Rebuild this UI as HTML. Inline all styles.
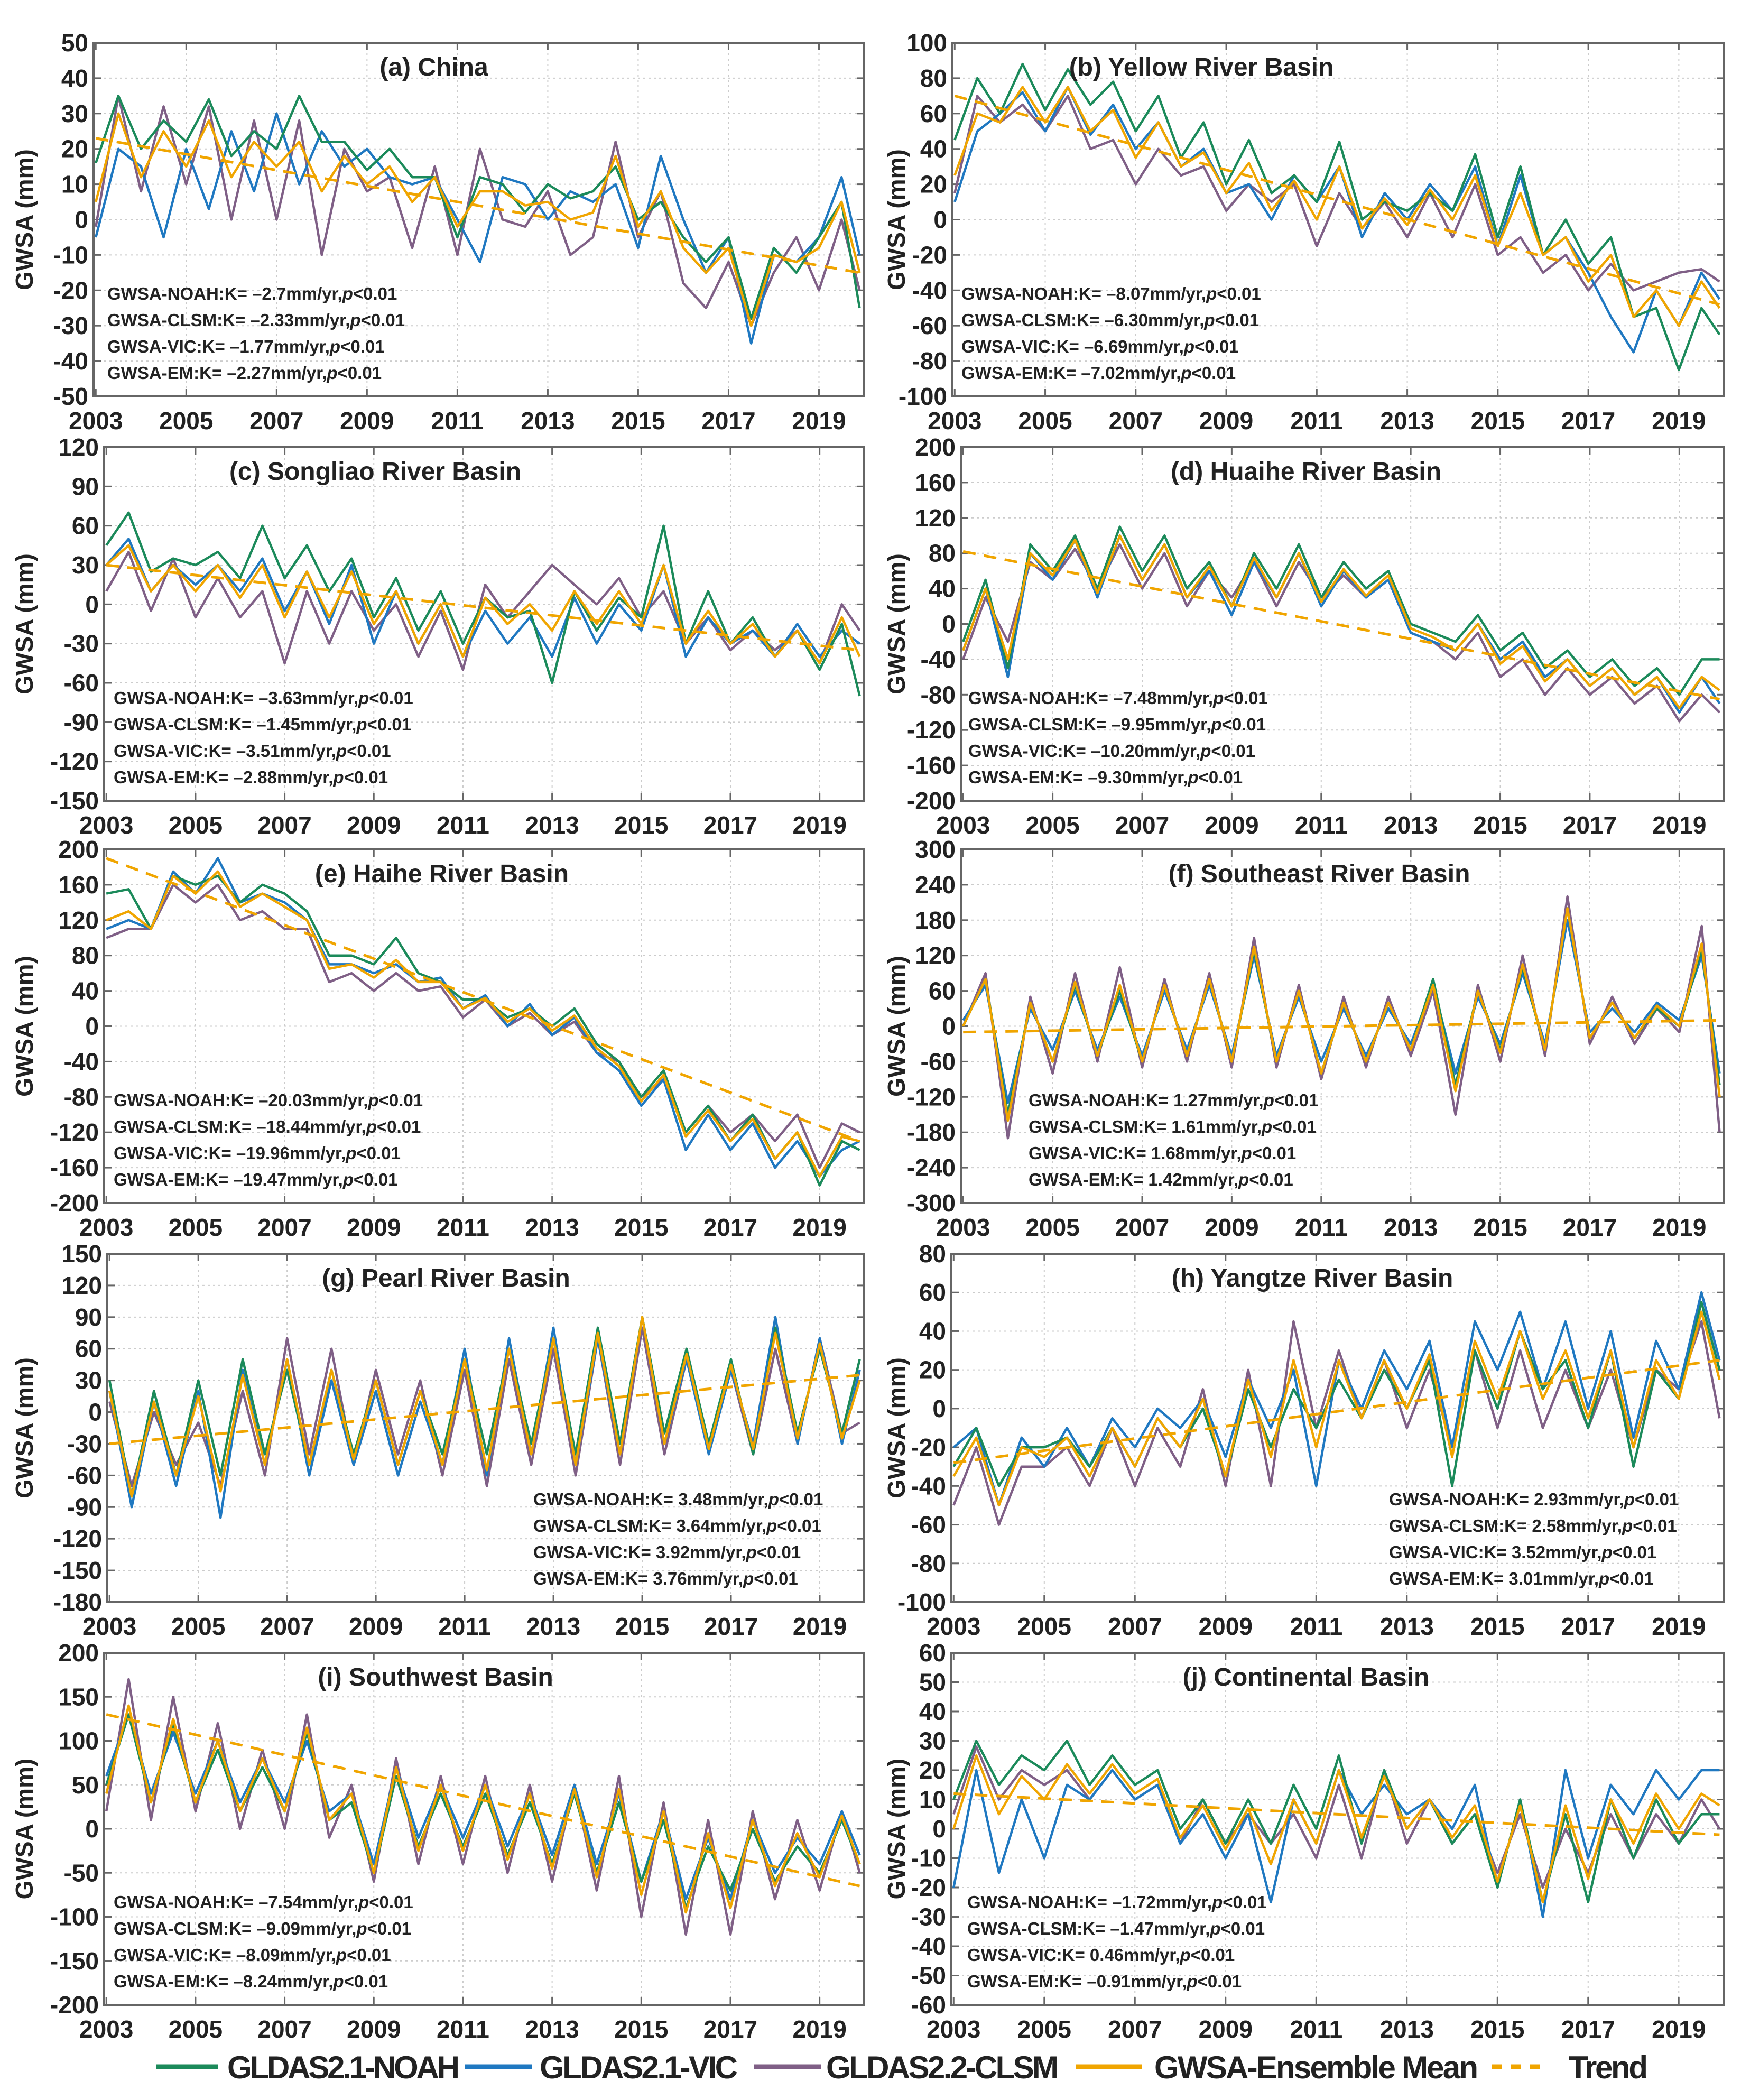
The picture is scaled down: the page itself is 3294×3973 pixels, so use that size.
<!DOCTYPE html>
<html><head><meta charset="utf-8"><style>
html,body{margin:0;padding:0;background:#fff}
svg{display:block}
text{font-family:"Liberation Sans",sans-serif;font-weight:bold;fill:#222}
</style></head><body>
<svg id="fig" width="3294" height="3973" viewBox="0 0 3294 3973" xmlns="http://www.w3.org/2000/svg">
<g id="legend">
 <g><line x1="295" y1="3910" x2="413" y2="3910" stroke="#1b8a5a" stroke-width="9"/><text x="430" y="3932" font-size="60" textLength="440">GLDAS2.1-NOAH</text></g>
 <g><line x1="880" y1="3910" x2="1007" y2="3910" stroke="#1f78c1" stroke-width="9"/><text x="1021" y="3932" font-size="60" textLength="375">GLDAS2.1-VIC</text></g>
 <g><line x1="1427" y1="3910" x2="1553" y2="3910" stroke="#7f5f86" stroke-width="9"/><text x="1563" y="3932" font-size="60" textLength="440">GLDAS2.2-CLSM</text></g>
 <g><line x1="2036" y1="3910" x2="2160" y2="3910" stroke="#f0a500" stroke-width="9"/><text x="2184" y="3932" font-size="60" textLength="613">GWSA-Ensemble Mean</text></g>
 <g><line x1="2822" y1="3910" x2="2930" y2="3910" stroke="#f0a500" stroke-width="9" stroke-dasharray="20 16"/><text x="2968" y="3932" font-size="60" textLength="150">Trend</text></g>
</g>
</svg>
<script>
// time axis: half-year steps from 2003.0
const timeSteps = [2003,2003.5,2004,2004.5,2005,2005.5,2006,2006.5,2007,2007.5,2008,2008.5,2009,2009.5,2010,2010.5,2011,2011.5,2012,2012.5,2013,2013.5,2014,2014.5,2015,2015.5,2016,2016.5,2017,2017.5,2018,2018.5,2019,2019.5,2019.9];
const xTickLabels = [2003,2005,2007,2009,2011,2013,2015,2017,2019];
const panelTitles = ["(a) China","(b) Yellow River Basin","(c) Songliao  River Basin","(d) Huaihe River Basin","(e) Haihe River Basin","(f) Southeast River Basin","(g) Pearl River Basin","(h) Yangtze River Basin","(i) Southwest  Basin","(j) Continental  Basin"];
const yMins = [-50,-100,-150,-200,-200,-300,-180,-100,-200,-60];
const yMaxs = [50,100,120,200,200,300,150,80,200,60];
const ySteps = [10,20,30,40,40,60,30,20,50,10];
const trendStart = [23,70,30,82,190,-10,-30,-28,130,12];
const trendEnd = [-15,-48,-35,-85,-130,10,35,25,-65,-2];
const kNoah = ["-2.7","-8.07","-3.63","-7.48","-20.03","1.27","3.48","2.93","-7.54","-1.72"];
const kClsm = ["-2.33","-6.30","-1.45","-9.95","-18.44","1.61","3.64","2.58","-9.09","-1.47"];
const kVic = ["-1.77","-6.69","-3.51","-10.20","-19.96","1.68","3.92","3.52","-8.09","0.46"];
const kEm = ["-2.27","-7.02","-2.88","-9.30","-19.47","1.42","3.76","3.01","-8.24","-0.91"];

const noahA=[16,35,20,28,22,34,18,25,20,35,22,22,14,20,12,12,-5,12,10,2,10,6,8,15,0,5,-5,-12,-5,-28,-8,-15,-5,5,-25];
const vicA=[-5,20,15,-5,20,3,25,8,30,10,25,15,20,12,10,12,0,-12,12,10,0,8,5,10,-8,18,0,-15,-5,-35,-10,-12,-5,12,-10];
const clsmA=[-2,35,8,32,10,32,0,28,0,28,-10,20,8,12,-8,15,-10,20,0,-2,8,-10,-5,22,-5,8,-18,-25,-12,-30,-15,-5,-20,0,-20];
const emA=[5,30,12,25,15,28,12,22,15,22,8,18,10,15,5,12,-2,8,8,4,5,0,2,18,-2,8,-8,-15,-8,-30,-10,-12,-8,5,-15];

const noahB=[45,80,60,88,62,85,65,78,50,70,35,55,20,45,15,25,10,44,0,10,5,15,5,37,-10,30,-20,0,-25,-10,-55,-50,-85,-50,-65];
const vicB=[10,50,60,72,50,75,48,65,40,55,30,40,15,20,0,25,10,30,-10,15,0,20,5,30,-15,25,-20,-10,-30,-55,-75,-40,-60,-30,-45];
const clsmB=[15,70,55,65,50,70,40,45,20,40,25,30,5,20,10,20,-15,15,-5,10,-10,15,-10,20,-20,-10,-30,-20,-40,-25,-40,-35,-30,-28,-35];
const emB=[25,60,55,75,55,75,50,62,35,55,30,38,15,32,5,22,0,30,-5,12,-3,17,0,25,-15,15,-20,-10,-35,-20,-55,-40,-60,-35,-50];

const noahC=[45,70,25,35,30,40,20,60,20,45,10,35,-10,20,-20,10,-30,5,-10,-5,-60,10,-20,5,-10,60,-30,10,-30,-10,-40,-20,-50,-15,-70];
const vicC=[30,50,10,30,15,30,10,35,-5,25,-15,30,-30,10,-30,0,-40,-5,-30,-10,-40,5,-30,0,-20,30,-40,-10,-30,-20,-40,-15,-40,-20,-30];
const clsmC=[10,40,-5,35,-10,20,-10,10,-45,10,-30,10,-20,0,-40,-5,-50,15,-10,10,30,15,0,20,-10,10,-30,-10,-35,-20,-35,-20,-45,0,-20];
const emC=[30,45,10,30,10,30,5,30,-10,25,-10,25,-15,10,-30,0,-40,5,-15,0,-20,10,-15,10,-15,30,-30,-5,-30,-15,-40,-20,-45,-10,-40];

const noahD=[-20,50,-50,90,60,100,40,110,60,100,40,70,20,80,40,90,30,70,40,60,0,-10,-20,10,-30,-10,-50,-30,-60,-40,-70,-50,-80,-40,-40];
const vicD=[-30,40,-60,80,50,95,30,100,50,90,30,60,10,70,30,80,20,60,30,50,-10,-20,-30,0,-40,-20,-60,-40,-70,-50,-80,-60,-100,-60,-90];
const clsmD=[-40,30,-20,70,50,85,40,90,40,80,20,60,30,70,20,70,30,55,30,50,-10,-20,-40,-10,-60,-40,-80,-50,-80,-60,-90,-70,-110,-80,-100];
const emD=[-30,40,-40,80,55,95,35,100,50,90,30,65,20,75,30,80,25,62,32,55,-5,-15,-30,0,-45,-25,-65,-40,-70,-50,-80,-60,-95,-60,-75];

const noahE=[150,155,110,170,160,170,140,160,150,130,80,80,70,100,60,50,30,30,10,20,0,20,-20,-40,-80,-50,-120,-90,-130,-100,-150,-120,-180,-130,-140];
const vicE=[110,120,110,175,150,190,140,150,140,120,70,70,60,70,50,55,20,35,0,25,-10,10,-30,-50,-90,-60,-140,-100,-140,-110,-160,-130,-170,-140,-130];
const clsmE=[100,110,110,160,140,160,120,130,110,110,50,60,40,60,40,45,10,30,0,15,-10,5,-30,-40,-80,-60,-120,-90,-120,-100,-130,-100,-160,-110,-120];
const emE=[120,130,110,170,150,175,135,150,135,120,65,70,55,75,50,50,20,32,5,20,-5,12,-25,-45,-85,-55,-125,-95,-130,-105,-150,-120,-170,-125,-130];

const noahF=[0,80,-150,40,-60,70,-50,60,-60,70,-50,80,-60,130,-60,60,-80,40,-60,40,-40,80,-100,60,-40,100,-40,200,-20,40,-20,30,0,130,-100];
const vicF=[10,70,-130,30,-40,60,-40,50,-50,60,-40,70,-50,120,-50,50,-60,30,-50,30,-30,70,-80,50,-30,90,-30,180,-10,30,-10,40,10,120,-80];
const clsmF=[0,90,-190,50,-80,90,-60,100,-70,80,-60,90,-70,150,-70,70,-90,50,-70,50,-50,60,-150,70,-60,120,-50,220,-30,50,-30,30,-10,170,-180];
const emF=[0,80,-160,40,-60,75,-50,70,-60,70,-50,80,-60,135,-60,60,-80,40,-60,40,-40,70,-110,60,-45,105,-40,200,-20,40,-20,35,0,140,-120];

const noahG=[30,-80,20,-60,30,-60,50,-40,40,-50,40,-40,30,-50,20,-40,50,-40,60,-30,70,-40,80,-30,90,-20,60,-30,50,-40,80,-20,60,-20,50];
const vicG=[20,-90,10,-70,20,-100,40,-50,50,-60,30,-50,20,-60,10,-50,60,-60,70,-40,80,-50,70,-40,90,-30,50,-40,40,-30,90,-30,70,-30,40];
const clsmG=[10,-70,0,-50,-10,-70,20,-60,70,-40,60,-50,40,-40,30,-60,40,-70,50,-50,60,-60,70,-50,80,-40,50,-30,40,-40,60,-30,70,-20,-10];
const emG=[20,-80,10,-60,15,-75,35,-50,50,-50,40,-45,30,-50,20,-50,50,-55,60,-40,70,-50,75,-40,90,-30,55,-35,45,-35,75,-25,65,-25,30];

const noahH=[-30,-10,-40,-20,-20,-15,-30,-10,-30,-5,-20,0,-35,10,-20,10,-10,15,-5,20,0,25,-40,30,0,40,10,25,-10,30,-30,20,5,55,20];
const vicH=[-20,-10,-50,-15,-30,-10,-30,-5,-20,0,-10,5,-25,15,-10,20,-40,25,0,30,10,35,-20,45,20,50,10,45,0,40,-15,35,10,60,25];
const clsmH=[-50,-20,-60,-30,-30,-20,-40,-10,-40,-10,-30,10,-40,20,-40,45,-10,30,-5,25,-10,20,-20,30,-10,30,-10,20,-10,20,-20,20,10,45,-5];
const emH=[-35,-15,-50,-20,-25,-15,-35,-10,-30,-5,-20,5,-35,15,-25,25,-20,25,-5,25,0,28,-25,35,5,40,5,30,-5,30,-20,25,5,50,15];

const noahI=[50,130,30,120,30,90,20,70,20,110,10,30,-50,60,-20,40,-20,40,-30,30,-40,40,-50,30,-60,10,-90,-20,-70,0,-60,-20,-50,10,-40];
const vicI=[60,130,40,110,40,100,30,80,30,100,20,40,-40,70,-10,50,-10,50,-20,40,-30,50,-40,40,-60,20,-80,-10,-80,10,-50,-10,-40,20,-30];
const clsmI=[20,170,10,150,20,120,0,90,0,130,-10,50,-60,80,-40,60,-40,60,-50,50,-60,50,-70,60,-100,30,-120,10,-120,20,-80,10,-70,20,-50];
const emI=[40,140,30,125,30,100,20,80,20,115,10,40,-50,70,-25,50,-25,50,-35,40,-45,45,-55,45,-75,20,-95,-5,-90,10,-65,-5,-55,15,-40];

const noahJ=[10,30,15,25,20,30,15,25,15,20,0,10,-5,10,-5,15,0,25,-5,20,0,10,-5,5,-20,10,-25,5,-25,10,-10,10,-5,5,5];
const vicJ=[-20,20,-15,10,-10,15,10,20,10,15,-5,5,-10,5,-25,10,-5,20,5,15,5,10,0,15,-20,10,-30,20,-10,15,5,20,10,20,20];
const clsmJ=[5,28,10,20,15,20,10,20,10,15,-5,10,-5,5,-5,5,-10,15,-10,20,-5,10,-5,5,-15,5,-20,0,-15,5,-10,5,-5,10,0];
const emJ=[0,25,5,18,10,22,12,22,12,17,-3,8,-7,7,-12,10,-5,20,-3,18,0,10,-3,8,-18,8,-25,8,-17,10,-5,12,0,12,8];

const noahAll=[noahA,noahB,noahC,noahD,noahE,noahF,noahG,noahH,noahI,noahJ];
const vicAll=[vicA,vicB,vicC,vicD,vicE,vicF,vicG,vicH,vicI,vicJ];
const clsmAll=[clsmA,clsmB,clsmC,clsmD,clsmE,clsmF,clsmG,clsmH,clsmI,clsmJ];
const emAll=[emA,emB,emC,emD,emE,emF,emG,emH,emI,emJ];

// layout (pixels)
const boxX0=[177,1802,197,1818,197,1818,203,1800,197,1800];
const rowsTop=[81,846,1607,2372,3127], rowsBot=[750,1515,2276,3031,3793];
const titleCx=[821,2273,710,2471,836,2496,844,2483,824,2471];
const annX=[203,1819,215,1832,215,1946,1009,2628,215,1830];
const NS="http://www.w3.org/2000/svg";
const svg=document.getElementById('fig');
function mk(tag,attrs,parent){const e=document.createElementNS(NS,tag);for(const k in attrs)e.setAttribute(k,attrs[k]);parent.appendChild(e);return e;}
const XMIN=2002.95, XMAX=2020.0;
const colors={noah:"#1b8a5a",vic:"#1f78c1",clsm:"#7f5f86",em:"#f0a500"};

for(let p=0;p<10;p++){
  const col=p%2,row=Math.floor(p/2);
  const x0=boxX0[p], x1=col?3262:1635, y0=rowsTop[row], y1=rowsBot[row];
  const sx=v=>x0+(v-XMIN)/(XMAX-XMIN)*(x1-x0);
  const sy=v=>y1-(v-yMins[p])/(yMaxs[p]-yMins[p])*(y1-y0);
  const g=mk('g',{},svg);
  
  
  const clipId='clip'+p;
  const cp=mk('clipPath',{id:clipId},g); mk('rect',{x:x0,y:y0,width:x1-x0,height:y1-y0},cp);
  for(let v=yMins[p];v<=yMaxs[p]+1e-6;v+=ySteps[p]){
    const y=sy(v);
    if(v>yMins[p]&&v<yMaxs[p]) mk('line',{x1:x0,x2:x1,y1:y,y2:y,stroke:"#ccc","stroke-width":2,"stroke-dasharray":"4 6"},g);
    mk('line',{x1:x0,x2:x0+14,y1:y,y2:y,stroke:"#666","stroke-width":3},g);
    mk('line',{x1:x1,x2:x1-14,y1:y,y2:y,stroke:"#666","stroke-width":3},g);
    const t=mk('text',{x:x0-10,y:y+16,"font-size":46,"text-anchor":"end"},g);
    t.textContent=v;
    
    
  }
  for(const yr of xTickLabels){
    const x=sx(yr);
    if(yr>2003) mk('line',{x1:x,x2:x,y1:y0,y2:y1,stroke:"#ccc","stroke-width":2,"stroke-dasharray":"4 6"},g);
    mk('line',{x1:x,x2:x,y1:y1,y2:y1-14,stroke:"#666","stroke-width":3},g);
    mk('line',{x1:x,x2:x,y1:y0,y2:y0+14,stroke:"#666","stroke-width":3},g);
    const t=mk('text',{x:x,y:y1+62,"font-size":46,"text-anchor":"middle"},g);
    t.textContent=yr;
    
    
  }
  const series=[["clsm",clsmAll[p]],["vic",vicAll[p]],["noah",noahAll[p]],["em",emAll[p]]];
  for(const [k,arr] of series){
    const d=arr.map((v,i)=>(i?'L':'M')+sx(timeSteps[i]).toFixed(1)+','+sy(v).toFixed(1)).join(' ');
    const pth=mk('path',{d:d,fill:"none",stroke:colors[k],"stroke-width":4.5,"stroke-linejoin":"round","clip-path":"url(#"+clipId+")"},g);
    
    
  }
  const tr=mk('line',{x1:sx(2003),y1:sy(trendStart[p]),x2:sx(2019.9),y2:sy(trendEnd[p]),stroke:"#f0a500","stroke-width":5,"stroke-dasharray":"24 16"},g);
  
  
  mk('rect',{x:x0,y:y0,width:x1-x0,height:y1-y0,fill:"none",stroke:"#666","stroke-width":4},g);
  const tt=mk('text',{x:titleCx[p],y:y0+62,"font-size":48,"text-anchor":"middle",fill:"#111"},g);
  tt.textContent=panelTitles[p];
  
  
  const yl=mk('text',{x:0,y:0,"font-size":46,"text-anchor":"middle",transform:"translate("+(col?1712:62)+","+((y0+y1)/2)+") rotate(-90)"},g);
  yl.textContent="GWSA (mm)";
  
  
  const lines=[["GWSA-NOAH:K= ",kNoah[p]],["GWSA-CLSM:K= ",kClsm[p]],["GWSA-VIC:K= ",kVic[p]],["GWSA-EM:K= ",kEm[p]]];
  const offs=[195,145,95,45];
  lines.forEach((ln,i)=>{
    const t=mk('text',{x:annX[p],y:y1-offs[i]+12,"font-size":33,fill:"#111"},g);
    
    
    const a=mk('tspan',{},t); a.textContent=ln[0]+ln[1].replace('-','\u2013')+"mm/yr,";
    const b=mk('tspan',{"font-style":"italic"},t); b.textContent="p";
    const c=mk('tspan',{},t); c.textContent="<0.01";
  });
}
</script>
</body></html>
